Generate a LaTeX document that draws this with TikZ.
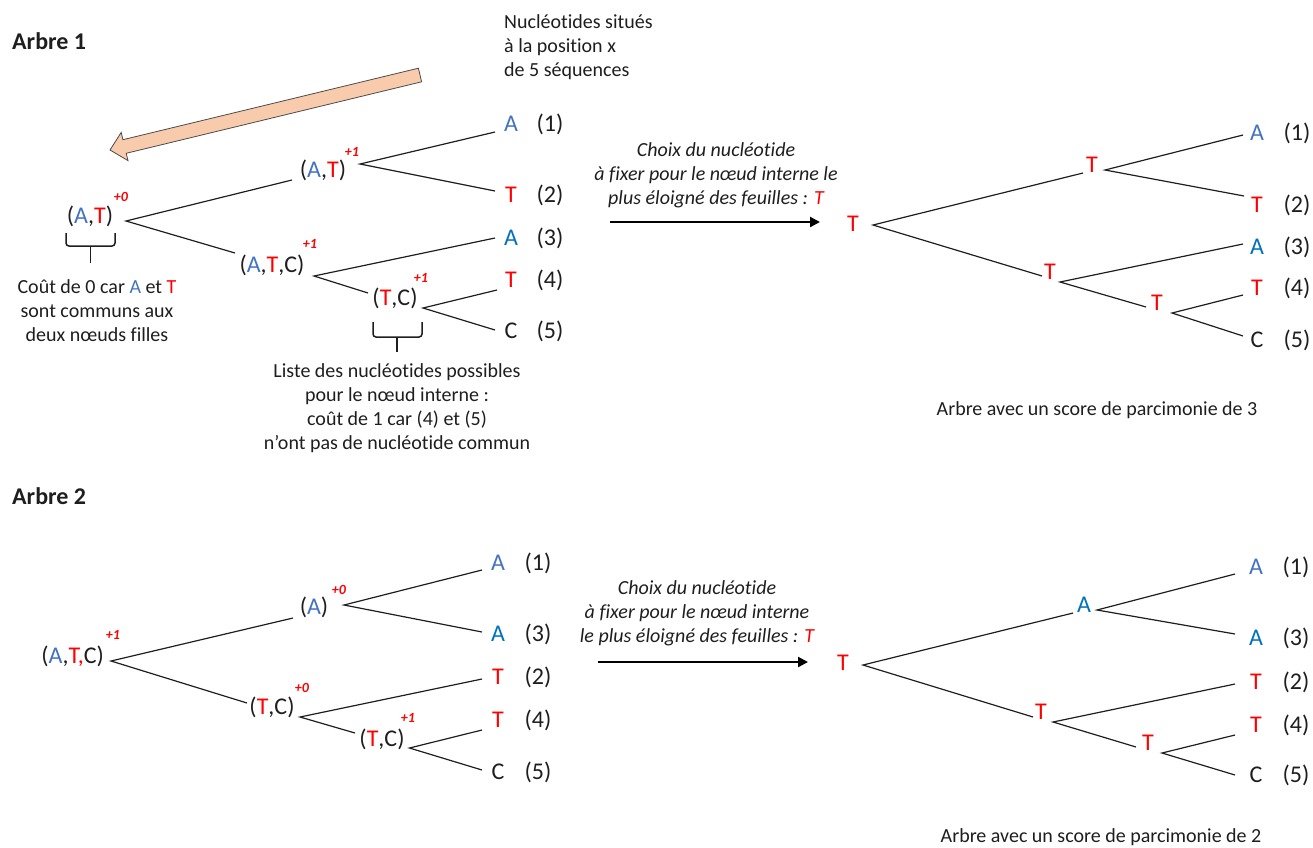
\documentclass[tikz,border=0pt]{standalone}
\usepackage{fontspec}
\setmainfont{Carlito}[Ligatures={TeX,NoCommon}]
\usetikzlibrary{arrows.meta}
\definecolor{blueA}{HTML}{4472C4}
\definecolor{blueB}{HTML}{0070C0}
\definecolor{redT}{HTML}{FF0000}
\definecolor{ink}{HTML}{1E1E1E}
\definecolor{peach}{HTML}{F8CBAD}
\newcommand{\bA}{\textcolor{blueA}{A}}
\newcommand{\bAA}{\textcolor{blueB}{A}}
\newcommand{\rT}{\textcolor{redT}{T}}
\begin{document}
\begin{tikzpicture}[x=1pt,y=-1pt,
 nl/.style={font=\fontsize{24}{29}\selectfont, text=ink, inner sep=0pt, anchor=base},
 cost/.style={font=\fontsize{14}{16}\selectfont\bfseries\itshape, text=redT, inner sep=0pt, anchor=base},
 branch/.style={draw=ink, line width=1.2pt},
 note/.style={font=\fontsize{20}{24}\selectfont, text=ink, align=center, inner sep=0pt},
 inote/.style={note, font=\fontsize{20}{24}\selectfont\itshape},
 ttl/.style={font=\fontsize{24}{29}\selectfont\bfseries, text=ink, inner sep=0pt, anchor=base west},
 bracep/.style={draw=ink, line width=1.5pt, rounded corners=3pt},
 flow/.style={draw=black, line width=2.2pt, -{Triangle[length=10pt,width=10pt]}},
]
\useasboundingbox (0,0) rectangle (1313,847);

% ---------- titles ----------
\node[ttl] (t1) at (12,49) {Arbre 1};
\node[ttl] (t2) at (12,504) {Arbre 2};

% ---------- orange block arrow ----------
\draw[draw=ink!80, line width=0.8pt, fill=peach] (110,150) -- (121.2,132.4) -- (122.9,139.7) -- (418.4,68.2) -- (421.6,81.8) -- (126.2,153.3) -- (128.0,160.6) -- cycle;

\node[note, anchor=west, align=left] (seq) at (504,47) {Nucléotides situés\\à la position x\\de 5 séquences};

% ---------- tree 1, left ----------
\node[nl] (r1) at (90,223) {(\bA,\rT)};
\node[cost] (r1c) at (121,201) {+0};
\node[nl] (a1) at (323,177.6) {(\bA,\rT)};
\node[cost] (a1c) at (352,156) {+1};
\node[nl] (b1) at (272,272.6) {(\bA,\rT,C)};
\node[cost] (b1c) at (310,248) {+1};
\node[nl] (c1) at (395,305.6) {(\rT,C)};
\node[cost] (c1c) at (421,282) {+1};
\node[nl] (l11) at (511,131) {\bA};   \node[nl] (k11) at (550,131) {(1)};
\node[nl] (l12) at (511,202) {\rT};   \node[nl] (k12) at (550,202) {(2)};
\node[nl] (l13) at (511,245) {\bAA};  \node[nl] (k13) at (550,245) {(3)};
\node[nl] (l14) at (511,287) {\rT};   \node[nl] (k14) at (550,287) {(4)};
\node[nl] (l15) at (511,338) {C};     \node[nl] (k15) at (550,338) {(5)};

\coordinate (r1j) at (126,221); \coordinate (a1e) at (292,180); \coordinate (b1e) at (235,253);
\coordinate (a1j) at (360,164); \coordinate (l11e) at (495,132); \coordinate (l12e) at (495,191);
\coordinate (b1j) at (314,276); \coordinate (l13e) at (495,238); \coordinate (c1e) at (368,293);
\coordinate (c1j) at (423,308); \coordinate (l14e) at (497,290); \coordinate (l15e) at (495,330);
\draw[branch] (a1e) -- (r1j) -- (b1e);
\draw[branch] (l11e) -- (a1j) -- (l12e);
\draw[branch] (l13e) -- (b1j) -- (c1e);
\draw[branch] (l14e) -- (c1j) -- (l15e);

\draw[bracep] (66,233) -- (66,246) -- (115,246) -- (115,233);
\draw[bracep] (90.7,246) -- (90.7,263);
\node[note] (n1) at (97,311) {Coût de 0 car \bA{} et \rT\\sont communs aux\\deux nœuds filles};

\draw[bracep] (373,322) -- (373,337) -- (422,337) -- (422,322);
\draw[bracep] (397,337) -- (397,352);
\node[note] (n2) at (397,408) {Liste des nucléotides possibles\\pour le nœud interne :\\coût de 1 car (4) et (5)\\n’ont pas de nucléotide commun};

% ---------- arrow 1 ----------
\coordinate (f1s) at (610,222); \coordinate (f1e) at (820,222);
\draw[flow] (f1s) -- (f1e);
\node[inote] (f1t) at (716,175) {Choix du nucléotide\\à fixer pour le nœud interne le\\plus éloigné des feuilles : \textcolor{redT}{T}};

% ---------- tree 1, right ----------
\node[nl] (R1) at (853,231) {\rT};
\node[nl] (U1) at (1092,172.5) {\rT};
\node[nl] (L1) at (1050,279.5) {\rT};
\node[nl] (S1) at (1157,310.5) {\rT};
\node[nl] (m11) at (1257,140.5) {\bA};  \node[nl] (q11) at (1297,140.5) {(1)};
\node[nl] (m12) at (1257,212.5) {\rT};  \node[nl] (q12) at (1297,212.5) {(2)};
\node[nl] (m13) at (1257,254.5) {\bAA}; \node[nl] (q13) at (1297,254.5) {(3)};
\node[nl] (m14) at (1257,295.5) {\rT};  \node[nl] (q14) at (1297,295.5) {(4)};
\node[nl] (m15) at (1257,347.5) {C};    \node[nl] (q15) at (1297,347.5) {(5)};
\coordinate (R1j) at (873,225); \coordinate (U1e) at (1083,173); \coordinate (L1e) at (1042,276);
\coordinate (U1j) at (1105,170); \coordinate (m11e) at (1243,135); \coordinate (m12e) at (1244,196);
\coordinate (L1j) at (1060,282); \coordinate (m13e) at (1243,244); \coordinate (S1e) at (1146,307);
\coordinate (S1j) at (1172,313); \coordinate (m14e) at (1243,295); \coordinate (m15e) at (1243,336);
\draw[branch] (U1e) -- (R1j) -- (L1e);
\draw[branch] (m11e) -- (U1j) -- (m12e);
\draw[branch] (m13e) -- (L1j) -- (S1e);
\draw[branch] (m14e) -- (S1j) -- (m15e);
\node[note] (cap1) at (1097,410) {Arbre avec un score de parcimonie de 3};

% ---------- tree 2, left ----------
\node[nl] (r2) at (72.6,663.5) {(\bA,\textcolor{redT}{T,}C)};
\node[cost] (r2c) at (113,639) {+1};
\node[nl] (a2) at (314,614.5) {(\bA)};
\node[cost] (a2c) at (339,594) {+0};
\node[nl] (b2) at (272,714.5) {(\rT,C)};
\node[cost] (b2c) at (302,692) {+0};
\node[nl] (c2) at (382,746.5) {(\rT,C)};
\node[cost] (c2c) at (408,722) {+1};
\node[nl] (l21) at (498,570.5) {\bA};  \node[nl] (k21) at (538,570.5) {(1)};
\node[nl] (l23) at (498,641.5) {\bAA}; \node[nl] (k23) at (538,641.5) {(3)};
\node[nl] (l22) at (498,684.5) {\rT};  \node[nl] (k22) at (538,684.5) {(2)};
\node[nl] (l24) at (498,727.5) {\rT};  \node[nl] (k24) at (538,727.5) {(4)};
\node[nl] (l25) at (498,779.5) {C};    \node[nl] (k25) at (538,779.5) {(5)};
\coordinate (r2j) at (111,661); \coordinate (a2e) at (293,618); \coordinate (b2e) at (247,703);
\coordinate (a2j) at (344,605); \coordinate (l21e) at (482,570); \coordinate (l23e) at (482,632);
\coordinate (b2j) at (300,717); \coordinate (l22e) at (482,679); \coordinate (c2e) at (355,733);
\coordinate (c2j) at (409.5,748); \coordinate (l24e) at (482,730); \coordinate (l25e) at (482,770);
\draw[branch] (a2e) -- (r2j) -- (b2e);
\draw[branch] (l21e) -- (a2j) -- (l23e);
\draw[branch] (l22e) -- (b2j) -- (c2e);
\draw[branch] (l24e) -- (c2j) -- (l25e);

% ---------- arrow 2 ----------
\coordinate (f2s) at (598,662); \coordinate (f2e) at (808,662);
\draw[flow] (f2s) -- (f2e);
\node[inote] (f2t) at (697,613) {Choix du nucléotide\\à fixer pour le nœud interne\\le plus éloigné des feuilles : \textcolor{redT}{T}};

% ---------- tree 2, right ----------
\node[nl] (R2) at (843,670.5) {\rT};
\node[nl] (U2) at (1084,612.5) {\bAA};
\node[nl] (L2) at (1041,719.5) {\rT};
\node[nl] (S2) at (1148,750.5) {\rT};
\node[nl] (m21) at (1256,574.5) {\bA};  \node[nl] (q21) at (1296,574.5) {(1)};
\node[nl] (m23) at (1256,645.5) {\bAA}; \node[nl] (q23) at (1296,645.5) {(3)};
\node[nl] (m22) at (1256,689.5) {\rT};  \node[nl] (q22) at (1296,689.5) {(2)};
\node[nl] (m24) at (1256,732.5) {\rT};  \node[nl] (q24) at (1296,732.5) {(4)};
\node[nl] (m25) at (1256,782.5) {C};    \node[nl] (q25) at (1296,782.5) {(5)};
\coordinate (R2j) at (863,665); \coordinate (U2e) at (1073,613); \coordinate (L2e) at (1033,717);
\coordinate (U2j) at (1097,610); \coordinate (m21e) at (1235,574); \coordinate (m23e) at (1235,634);
\coordinate (L2j) at (1053,722); \coordinate (m22e) at (1235,684); \coordinate (S2e) at (1136,747);
\coordinate (S2j) at (1162,753); \coordinate (m24e) at (1235,735); \coordinate (m25e) at (1235,775);
\draw[branch] (U2e) -- (R2j) -- (L2e);
\draw[branch] (m21e) -- (U2j) -- (m23e);
\draw[branch] (m22e) -- (L2j) -- (S2e);
\draw[branch] (m24e) -- (S2j) -- (m25e);
\node[note] (cap2) at (1101,837) {Arbre avec un score de parcimonie de 2};
\end{tikzpicture}
\end{document}
